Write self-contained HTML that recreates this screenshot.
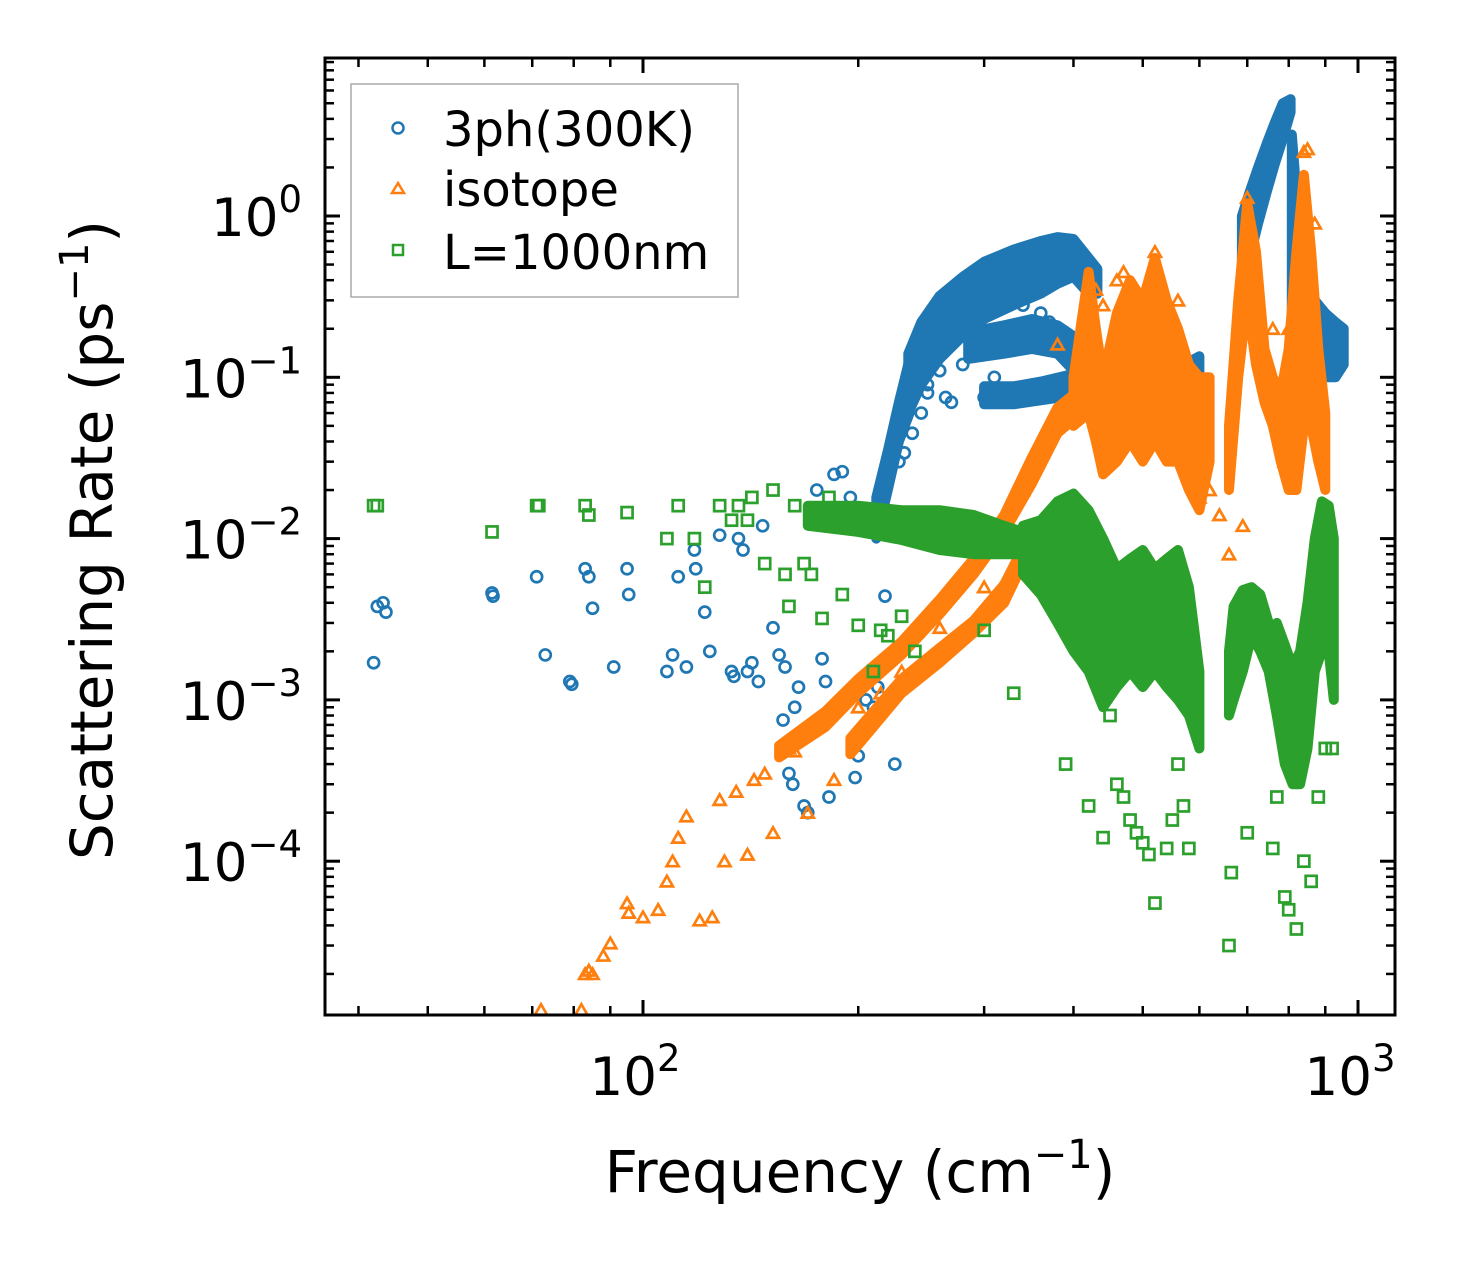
<!DOCTYPE html>
<html><head><meta charset="utf-8"><style>
html,body{margin:0;padding:0;background:#fff;}
svg{display:block;font-family:"DejaVu Sans","Liberation Sans",sans-serif;}
</style></head><body>
<svg id="chart" width="1472" height="1265" viewBox="0 0 1472 1265" xmlns="http://www.w3.org/2000/svg">
<rect width="1472" height="1265" fill="#fff"/>
<defs><clipPath id="pc"><rect x="325" y="58" width="1070" height="957"/></clipPath></defs>
<g id="bands" clip-path="url(#pc)"></g>
<g id="marks" clip-path="url(#pc)"></g>
<g id="axes"></g>
<rect x="325" y="58" width="1070" height="957" fill="none" stroke="#000" stroke-width="3"/>
<text x="860" y="1192" font-size="58" text-anchor="middle">Frequency (cm<tspan dy="-24" font-size="40">−1</tspan><tspan dy="24">)</tspan></text>
<text transform="translate(112,540) rotate(-90)" font-size="58" text-anchor="middle">Scattering Rate (ps<tspan dy="-24" font-size="40">−1</tspan><tspan dy="24">)</tspan></text>
<g>
<rect x="351" y="84" width="387" height="213" fill="#fff" stroke="#aaa" stroke-width="1.5"/>
<g><circle cx="398" cy="128" r="5.5" fill="none" stroke="#1f77b4" stroke-width="2.5"/><text x="443" y="146" font-size="48">3ph(300K)</text></g>
<g><path d="M392,193 L398,183 L404,193 Z" fill="none" stroke="#ff7f0e" stroke-width="2.5"/><text x="443" y="206" font-size="48">isotope</text></g>
<g><rect x="393" y="245" width="10" height="10" fill="none" stroke="#2ca02c" stroke-width="2.5"/><text x="443" y="269" font-size="48">L=1000nm</text></g>
</g>
</svg>
<script>
// axis constants
const X0=643, XD=715, Y0=216, YD=161.3;
function xs(f){return X0+XD*(Math.log10(f)-2);}
function ys(r){return Y0-YD*Math.log10(r);}

// ---- 3ph (blue) ----
const blueFreq=[42,42.5,43.3,43.7,61.5,61.7,71,73,79,79.5,83,84,85,91,95,95.5,108,110,112,115,118,118.5,122,124,128,133,134,136,138,140,142,145,147,152,155,158,157,160,162,163,165,168,170,172,175,178,180,182,185,190,195,198,200,205,210,213,218,225,228,232,238,245,250,260,270,300,330,370,420,250,265,280,310,340,360];
const blueRate=[0.0017,0.0038,0.004,0.0035,0.0046,0.0044,0.0058,0.0019,0.0013,0.00125,0.0065,0.0058,0.0037,0.0016,0.0065,0.0045,0.0015,0.0019,0.0058,0.0016,0.0085,0.0065,0.0035,0.002,0.0105,0.0015,0.0014,0.01,0.0085,0.0015,0.0017,0.0013,0.012,0.0028,0.0019,0.0016,0.00075,0.00035,0.0003,0.0009,0.0012,0.00022,0.0002,0.014,0.02,0.0018,0.0013,0.00025,0.025,0.026,0.018,0.00033,0.00045,0.001,0.0009,0.0012,0.0044,0.0004,0.03,0.034,0.045,0.06,0.09,0.11,0.07,0.075,0.08,0.22,0.2,0.08,0.075,0.12,0.1,0.28,0.25];
const blueBandFreq=[[212,220,228,236],[235,245,260,280,300,330,360,380,400,420,432],[285,320,350,380,400,420],[300,330,360,400,440,480,520,560,600],[688,705,725,745,765,785,805],[808,820,835,850,870,900,930,955]];
const blueBandHi=[[0.018,0.035,0.07,0.13],[0.14,0.22,0.32,0.42,0.52,0.62,0.7,0.74,0.72,0.55,0.47],[0.19,0.21,0.23,0.21,0.18,0.14],[0.088,0.088,0.094,0.105,0.105,0.095,0.105,0.115,0.135],[1.0,1.4,2.0,2.8,3.8,5.0,5.3],[3.2,1.4,0.7,0.45,0.3,0.25,0.22,0.2]];
const blueBandLo=[[0.01,0.02,0.04,0.06],[0.06,0.09,0.13,0.18,0.23,0.28,0.33,0.38,0.42,0.33,0.33],[0.13,0.14,0.15,0.14,0.11,0.095],[0.068,0.068,0.072,0.077,0.068,0.068,0.077,0.082,0.097],[0.45,0.55,0.9,1.4,2.1,3.0,4.4],[0.25,0.1,0.08,0.08,0.1,0.1,0.1,0.12]];

// ---- isotope (orange) ----
const orFreq=[72,82,83,84,85,88,90,95,95.5,100,105,108,110,112,115,120,125,128,130,135,140,143,148,152,160,163,170,172,185,200,215,230,260,300,340,380,430,440,460,470,500,520,530,560,570,600,620,640,660,690,700,710,760,780,790,800,840,850,870,880,900];
const orRate=[1.2e-5,1.2e-5,2e-5,2.1e-5,2e-5,2.6e-5,3.1e-5,5.5e-5,4.8e-5,4.5e-5,5e-5,7.5e-5,1e-4,1.4e-4,1.9e-4,4.3e-5,4.5e-5,2.4e-4,1e-4,2.7e-4,1.1e-4,3.2e-4,3.5e-4,1.5e-4,5e-4,4.8e-4,2e-4,7e-4,3.2e-4,9e-4,1.1e-3,1.5e-3,0.0028,0.005,0.02,0.16,0.35,0.28,0.4,0.45,0.3,0.6,0.35,0.3,0.12,0.018,0.02,0.014,0.008,0.012,1.3,0.5,0.2,0.06,0.03,0.2,2.5,2.6,0.9,0.07,0.003];
const orBandFreq=[[155,180,200,230,260,290,320,350,380,410],[195,230,260,290,320,345],[400,420,430,440,460,480,500,520,540,560,580,600,620],[660,680,700,720,740,760,780,800,820,840,860,880,900]];
const orBandHi=[[5.2e-4,8.5e-4,1.35e-3,2.3e-3,4.2e-3,7.5e-3,0.014,0.032,0.065,0.085],[5.8e-4,1.35e-3,2.1e-3,3.1e-3,5.2e-3,0.01],[0.1,0.45,0.2,0.1,0.25,0.4,0.3,0.55,0.3,0.2,0.12,0.1,0.1],[0.05,0.3,1.2,0.6,0.15,0.1,0.08,0.15,0.6,1.8,0.6,0.15,0.06]];
const orBandLo=[[4.4e-4,6.8e-4,1.1e-3,1.9e-3,3.4e-3,6e-3,0.011,0.022,0.045,0.06],[4.6e-4,1.1e-3,1.7e-3,2.6e-3,4e-3,0.008],[0.05,0.06,0.04,0.025,0.03,0.04,0.03,0.04,0.03,0.03,0.02,0.015,0.03],[0.02,0.1,0.3,0.12,0.07,0.05,0.03,0.02,0.02,0.05,0.05,0.03,0.02]];

// ---- boundary L=1000nm (green) ----
const grFreq=[42,42.5,61.5,71,71.5,83,84,95,108,112,118,122,128,133,136,140,142,148,152,158,160,163,168,172,178,182,190,200,210,215,220,230,240,300,330,390,420,440,445,450,460,470,480,490,500,510,520,540,550,560,570,580,660,665,700,760,770,790,800,820,840,860,880,900,920];
const grRate=[0.016,0.016,0.011,0.016,0.016,0.016,0.014,0.0145,0.01,0.016,0.01,0.005,0.016,0.013,0.016,0.013,0.018,0.007,0.02,0.006,0.0038,0.016,0.007,0.006,0.0032,0.018,0.0045,0.0029,0.0015,0.0027,0.0025,0.0033,0.002,0.0027,0.0011,0.0004,0.00022,0.00014,0.0013,0.0008,0.0003,0.00025,0.00018,0.00015,0.00013,0.00011,5.5e-5,0.00012,0.00018,0.0004,0.00022,0.00012,3e-5,8.5e-5,0.00015,0.00012,0.00025,6e-5,5e-5,3.8e-5,0.0001,7.5e-5,0.00025,0.0005,0.0005];
const grBandFreq=[[170,200,230,260,290,320,340,360],[340,360,380,400,420,440,460,480,500,520,540,560,580,600],[660,670,690,710,730,750,770],[770,790,810,830,850,870,890,910,925]];
const grBandHi=[[0.016,0.016,0.015,0.015,0.014,0.012,0.011,0.009],[0.012,0.013,0.017,0.019,0.015,0.01,0.0065,0.0075,0.0085,0.0065,0.0075,0.0085,0.005,0.0015],[0.002,0.0038,0.0048,0.005,0.0045,0.003,0.002],[0.003,0.0022,0.0016,0.002,0.004,0.01,0.017,0.016,0.01]];
const grBandLo=[[0.012,0.011,0.0098,0.0085,0.008,0.008,0.008,0.006],[0.006,0.0045,0.003,0.002,0.0015,0.0009,0.0012,0.0015,0.0012,0.0015,0.0012,0.001,0.0008,0.0005],[0.0008,0.001,0.0015,0.0025,0.002,0.0015,0.0008],[0.0008,0.0004,0.0003,0.0003,0.0005,0.0015,0.002,0.002,0.001]];

// ticks
const xMajor=[100,1000];
const xMajorLabels=["2","3"];
const xMinor=[40,50,60,70,80,90,200,300,400,500,600,700,800,900];
const yMajor=[1,0.1,0.01,0.001,0.0001];
const yMajorLabels=["0","−1","−2","−3","−4"];

const NS="http://www.w3.org/2000/svg";
function mk(tag,attrs,parent){const e=document.createElementNS(NS,tag);for(const k in attrs)e.setAttribute(k,attrs[k]);parent.appendChild(e);return e;}
const marks=document.getElementById('marks');
const axes=document.getElementById('axes');

function drawBands(F,H,L,color,name){
  for(let b=0;b<F.length;b++){
    let pts=[];
    for(let i=0;i<F[b].length;i++)pts.push(xs(F[b][i]).toFixed(1)+','+ys(H[b][i]).toFixed(1));
    for(let i=F[b].length-1;i>=0;i--)pts.push(xs(F[b][i]).toFixed(1)+','+ys(L[b][i]).toFixed(1));
    const p=mk('polygon',{points:pts.join(' '),fill:color,stroke:color,'stroke-width':10,'stroke-linejoin':'round'},marks);
    
    
  }
}
function drawPts(F,R,color,shape,name){
  for(let i=0;i<F.length;i++){
    const x=xs(F[i]),y=ys(R[i]);let e;
    if(shape==='c')e=mk('circle',{cx:x,cy:y,r:5.5,fill:'none',stroke:color,'stroke-width':2.7},marks);
    else if(shape==='t')e=mk('path',{d:`M${x-6},${y+5} L${x},${y-5.5} L${x+6},${y+5} Z`,fill:'none',stroke:color,'stroke-width':2.7},marks);
    else e=mk('rect',{x:x-5.5,y:y-5.5,width:11,height:11,fill:'none',stroke:color,'stroke-width':2.7},marks);
    
    
  }
}
drawBands(blueBandFreq,blueBandHi,blueBandLo,'#1f77b4','3ph');
drawPts(blueFreq,blueRate,'#1f77b4','c','3ph');
drawBands(orBandFreq,orBandHi,orBandLo,'#ff7f0e','isotope');
drawPts(orFreq,orRate,'#ff7f0e','t','isotope');
drawBands(grBandFreq,grBandHi,grBandLo,'#2ca02c','boundary');
drawPts(grFreq,grRate,'#2ca02c','s','boundary');

// axes ticks
xMajor.forEach((v,i)=>{const x=xs(v);
  mk('line',{x1:x,x2:x,y1:1015,y2:1000,stroke:'#000','stroke-width':3},axes);
  mk('line',{x1:x,x2:x,y1:58,y2:73,stroke:'#000','stroke-width':3},axes);
  const t=mk('text',{x:x-8,y:1095,'font-size':53,'text-anchor':'middle'},axes);
  
  
  t.innerHTML='10<tspan dy="-24" font-size="37">'+xMajorLabels[i]+'</tspan>';
});
xMinor.forEach(v=>{const x=xs(v);
  mk('line',{x1:x,x2:x,y1:1015,y2:1006,stroke:'#000','stroke-width':2.5},axes);
  mk('line',{x1:x,x2:x,y1:58,y2:67,stroke:'#000','stroke-width':2.5},axes);
});
yMajor.forEach((v,i)=>{const y=ys(v);
  mk('line',{x1:325,x2:340,y1:y,y2:y,stroke:'#000','stroke-width':3},axes);
  mk('line',{x1:1380,x2:1395,y1:y,y2:y,stroke:'#000','stroke-width':3},axes);
  const t=mk('text',{x:302,y:y+20,'font-size':53,'text-anchor':'end'},axes);
  
  
  t.innerHTML='10<tspan dy="-24" font-size="37">'+yMajorLabels[i]+'</tspan>';
});
for(let e=-5;e<=0;e++){for(let m=2;m<=9;m++){const v=m*Math.pow(10,e);const y=ys(v);
  if(y<58||y>1015)continue;
  mk('line',{x1:325,x2:334,y1:y,y2:y,stroke:'#000','stroke-width':2.5},axes);
  mk('line',{x1:1386,x2:1395,y1:y,y2:y,stroke:'#000','stroke-width':2.5},axes);
}}
</script>
</body></html>
